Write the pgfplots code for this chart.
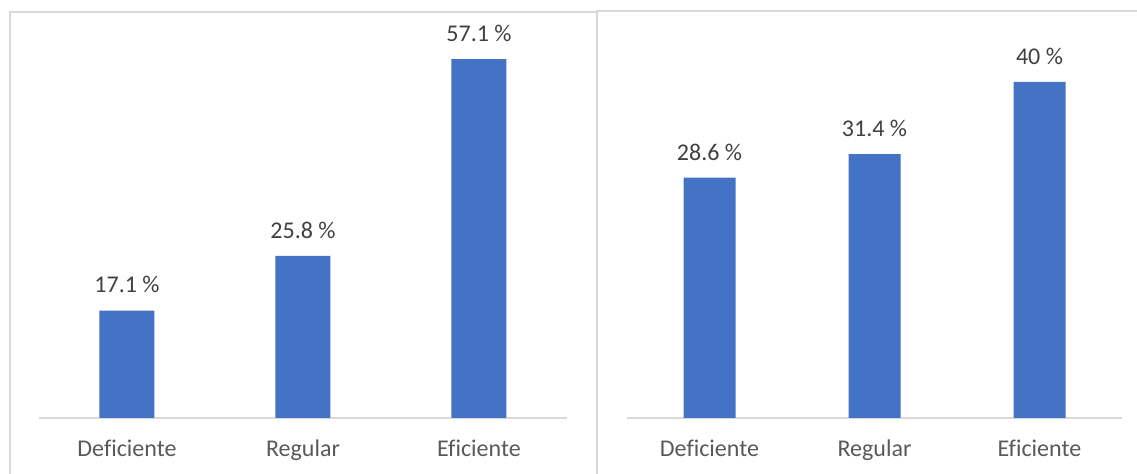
\documentclass[border=0pt]{standalone}
\usepackage{fontspec}
\setmainfont{Carlito}[Ligatures=NoCommon]
\usepackage{pgfplots}
\pgfplotsset{compat=1.18}
\definecolor{barblue}{HTML}{4472C4}
\definecolor{framegray}{HTML}{D9D9D9}
\definecolor{txtgray}{HTML}{595959}
\definecolor{lblgray}{HTML}{404040}
\pgfplotsset{
  panel/.style={
    scale only axis,
    axis y line=none,
    axis x line*=bottom,
    x axis line style={draw=framegray, line width=0.8pt, -},
    xmin=-0.5, xmax=2.5,
    ymin=0,
    xtick={0,1,2},
    xticklabels={Deficiente,Regular,Eficiente},
    major tick length=0pt,
    xticklabel style={font=\fontsize{12}{14}\selectfont, text=txtgray, anchor=base, yshift=-19.5pt},
    ybar, bar shift=0pt,
    nodes near coords={\pgfmathprintnumber[assume math mode=true]{\pgfplotspointmeta}~\%},
    every node near coord/.append style={font=\fontsize{12}{14}\selectfont, text=lblgray, anchor=base, yshift=8.8pt},
    clip=false,
  }
}
\begin{document}
\begin{tikzpicture}[x=1pt,y=1pt]
\useasboundingbox (0,0) rectangle (568.5,237);
% frames
\draw[framegray, line width=0.8pt] (5,0) -- (5,231) -- (298.5,231);
\draw[framegray, line width=0.8pt] (298.5,0) -- (298.5,231.5) -- (568.5,231.5);
\begin{axis}[panel,
  at={(19.5pt,28pt)}, anchor=south west,
  width=264pt, height=188.5pt, ymax=60]
\addplot[fill=barblue, draw=none, bar width=27.5pt] coordinates {(0,17.1) (1,25.8) (2,57.1)};
\end{axis}
\begin{axis}[panel,
  at={(313.5pt,28pt)}, anchor=south west,
  width=247.5pt, height=189pt, ymax=45]
\addplot[fill=barblue, draw=none, bar width=26pt] coordinates {(0,28.6) (1,31.4) (2,40)};
\end{axis}
\end{tikzpicture}
\end{document}
